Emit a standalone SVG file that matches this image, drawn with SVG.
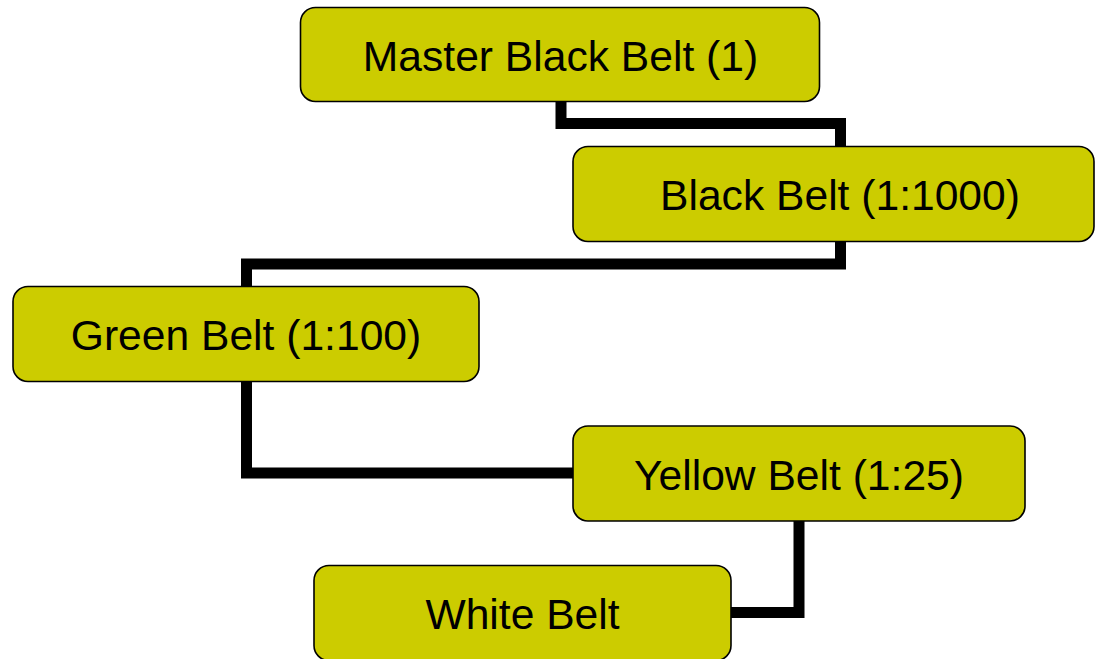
<svg xmlns="http://www.w3.org/2000/svg" width="1096" height="659" viewBox="0 0 1096 659">
<style>
.box{fill:#CCCC00;stroke:#000;stroke-width:1.6}
.lbl{font-family:"Liberation Sans",Arial,sans-serif;font-size:42.6px;fill:#000;text-anchor:middle}
.conn{fill:none;stroke:#000;stroke-width:11;stroke-linejoin:miter;stroke-linecap:butt}
</style>
<rect width="1096" height="659" fill="#fff"/>
<g id="connectors">
<path class="conn" d="M561,101 V123.5 H840.5 V147"/>
<path class="conn" d="M840.5,241 V264 H246.5 V287"/>
<path class="conn" d="M246.5,381 V473 H574"/>
<path class="conn" d="M799,520 V612.5 H730"/>
</g>
<g id="master">
<rect class="box" x="300.5" y="7.5" width="519" height="94" rx="15"/>
<text class="lbl" x="560.5" y="71">Master Black Belt (1)</text>
</g>
<g id="black">
<rect class="box" x="573" y="146.5" width="521" height="95" rx="15"/>
<text class="lbl" x="840" y="210">Black Belt (1:1000)</text>
</g>
<g id="green">
<rect class="box" x="13" y="286.5" width="466" height="95" rx="15"/>
<text class="lbl" x="246" y="350">Green Belt (1:100)</text>
</g>
<g id="yellow">
<rect class="box" x="573" y="426" width="452" height="95" rx="15"/>
<text class="lbl" x="799" y="490">Yellow Belt (1:25)</text>
</g>
<g id="white">
<rect class="box" x="314" y="565.5" width="417" height="95" rx="15"/>
<text class="lbl" x="522.5" y="629">White Belt</text>
</g>
</svg>
